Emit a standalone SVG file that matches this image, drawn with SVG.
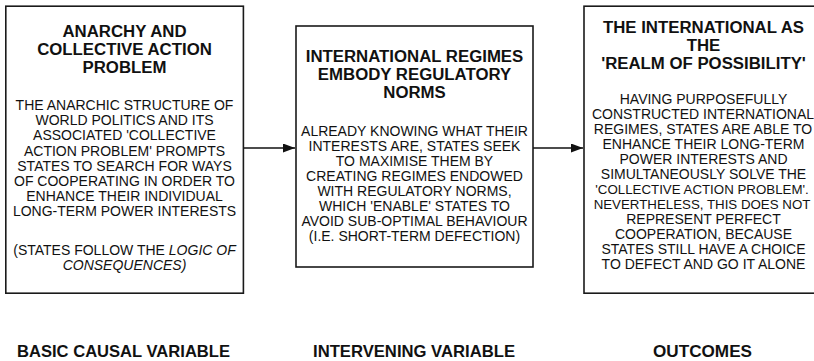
<svg xmlns="http://www.w3.org/2000/svg" width="814" height="361" viewBox="0 0 814 361">
<style>
.box{fill:#fff;stroke:#1a1a1a;stroke-width:1.6}
.t{font-family:"Liberation Sans",Arial,sans-serif;font-weight:bold;font-size:16.8px;fill:#111;text-anchor:middle}
.b{font-family:"Liberation Sans",Arial,sans-serif;font-size:14px;fill:#111;text-anchor:middle}
.s{font-size:13.3px}
.l{font-family:"Liberation Sans",Arial,sans-serif;font-weight:bold;font-size:16.5px;fill:#111;text-anchor:middle}
.c{stroke:#111;stroke-width:1.4;fill:none}
</style>
<defs>
<marker id="ah" markerWidth="12" markerHeight="9" refX="12" refY="4.5" orient="auto" markerUnits="userSpaceOnUse">
<path d="M0,0 L12,4.5 L0,9 Z" fill="#111"/>
</marker>
</defs>
<rect width="814" height="361" fill="#fff"/>
<g id="connectors">
<line class="c" x1="243" y1="148" x2="295" y2="148" marker-end="url(#ah)"/>
<line class="c" x1="533" y1="148" x2="583" y2="148" marker-end="url(#ah)"/>
</g>
<g id="node1">
<rect class="box" x="5.8" y="6.2" width="237.6" height="287"/>
<text class="t" x="124.5" y="37">ANARCHY AND</text>
<text class="t" x="124.5" y="55">COLLECTIVE ACTION</text>
<text class="t" x="124.5" y="73">PROBLEM</text>
<text class="b" x="124.5" y="110">THE ANARCHIC STRUCTURE OF</text>
<text class="b" x="124.5" y="125.2">WORLD POLITICS AND ITS</text>
<text class="b" x="124.5" y="140.4">ASSOCIATED 'COLLECTIVE</text>
<text class="b" x="124.5" y="155.6">ACTION PROBLEM' PROMPTS</text>
<text class="b" x="124.5" y="170.8">STATES TO SEARCH FOR WAYS</text>
<text class="b" x="124.5" y="186">OF COOPERATING IN ORDER TO</text>
<text class="b" x="124.5" y="201.2">ENHANCE THEIR INDIVIDUAL</text>
<text class="b" x="124.5" y="216.4">LONG-TERM POWER INTERESTS</text>
<text class="b" x="124.5" y="255">(STATES FOLLOW THE <tspan font-style="italic">LOGIC OF</tspan></text>
<text class="b" x="124.5" y="270" font-style="italic">CONSEQUENCES)</text>
</g>
<g id="node2">
<rect class="box" x="296" y="26" width="237" height="241"/>
<text class="t" x="414.5" y="62">INTERNATIONAL REGIMES</text>
<text class="t" x="414.5" y="80">EMBODY REGULATORY</text>
<text class="t" x="414.5" y="98">NORMS</text>
<text class="b" x="414.5" y="136">ALREADY KNOWING WHAT THEIR</text>
<text class="b" x="414.5" y="151">INTERESTS ARE, STATES SEEK</text>
<text class="b" x="414.5" y="166">TO MAXIMISE THEM BY</text>
<text class="b" x="414.5" y="181">CREATING REGIMES ENDOWED</text>
<text class="b" x="414.5" y="196">WITH REGULATORY NORMS,</text>
<text class="b" x="414.5" y="211">WHICH 'ENABLE' STATES TO</text>
<text class="b" x="414.5" y="226">AVOID SUB-OPTIMAL BEHAVIOUR</text>
<text class="b" x="414.5" y="241">(I.E. SHORT-TERM DEFECTION)</text>
</g>
<g id="node3">
<rect class="box" x="584" y="6.2" width="238" height="287"/>
<text class="t" x="703.5" y="33">THE INTERNATIONAL AS</text>
<text class="t" x="703.5" y="51">THE</text>
<text class="t" x="703.5" y="69">'REALM OF POSSIBILITY'</text>
<text class="b" x="703.5" y="104">HAVING PURPOSEFULLY</text>
<text class="b" x="703" y="119">CONSTRUCTED INTERNATIONAL</text>
<text class="b" x="703" y="134">REGIMES, STATES ARE ABLE TO</text>
<text class="b" x="703.5" y="149">ENHANCE THEIR LONG-TERM</text>
<text class="b" x="703.5" y="164">POWER INTERESTS AND</text>
<text class="b" x="703.5" y="179">SIMULTANEOUSLY SOLVE THE</text>
<text class="b s" x="702" y="194">'COLLECTIVE ACTION PROBLEM'.</text>
<text class="b s" x="702" y="209">NEVERTHELESS, THIS DOES NOT</text>
<text class="b" x="703.5" y="224">REPRESENT PERFECT</text>
<text class="b" x="703.5" y="239">COOPERATION, BECAUSE</text>
<text class="b" x="703.5" y="254">STATES STILL HAVE A CHOICE</text>
<text class="b" x="703.5" y="269">TO DEFECT AND GO IT ALONE</text>
</g>
<g id="labels">
<text class="l" x="123.5" y="357" textLength="213" lengthAdjust="spacingAndGlyphs">BASIC CAUSAL VARIABLE</text>
<text class="l" x="414" y="357" textLength="202" lengthAdjust="spacingAndGlyphs">INTERVENING VARIABLE</text>
<text class="l" x="702.5" y="357" textLength="99" lengthAdjust="spacingAndGlyphs">OUTCOMES</text>
</g>
</svg>
